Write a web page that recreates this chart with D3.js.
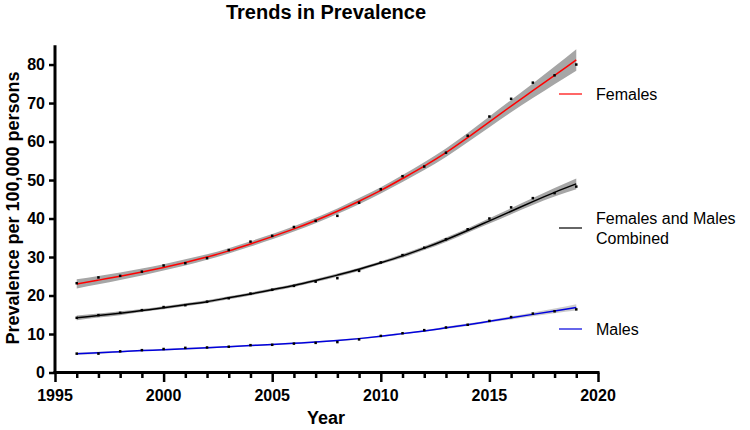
<!DOCTYPE html>
<meta charset="utf-8">
<title>Trends in Prevalence</title>
<body>
<script src="https://cdn.jsdelivr.net/npm/d3@7"></script>
<style>
html, body {
    margin: 0;
    background: #fff;
}
svg {
    display: block;
    font-family: "Liberation Sans", Arial, sans-serif;
}
</style>
<script>
var years = d3.range(1996, 2020);

// observed points
var females  = [23.2, 24.7, 25.1, 26.2, 27.8, 28.4, 29.7, 31.8, 34.0, 35.5, 37.8, 39.4,
                40.7, 44.1, 47.6, 51.0, 53.5, 57.1, 61.5, 66.5, 71.1, 75.3, 77.2, 80.0];
var combined = [14.2, 14.9, 15.5, 16.2, 17.0, 17.5, 18.4, 19.3, 20.5, 21.5, 22.5, 23.6,
                24.5, 26.4, 28.6, 30.5, 32.4, 34.6, 37.2, 40.0, 42.9, 45.3, 46.6, 48.3];
var males    = [4.9, 4.9, 5.5, 5.8, 6.1, 6.4, 6.5, 6.7, 7.1, 7.2, 7.5, 7.7,
                7.9, 8.6, 9.5, 10.2, 11.0, 11.7, 12.4, 13.4, 14.4, 15.3, 15.9, 16.4];

// fitted trend
var femalesFit  = [23.0, 24.0, 25.0, 26.1, 27.3, 28.6, 30.0, 31.6, 33.4, 35.3, 37.3, 39.5,
                   41.9, 44.5, 47.3, 50.4, 53.6, 57.1, 61.0, 65.1, 69.2, 73.2, 77.2, 81.2];
var combinedFit = [14.2, 14.8, 15.4, 16.1, 16.8, 17.6, 18.4, 19.4, 20.4, 21.5, 22.6, 23.9,
                   25.3, 26.8, 28.5, 30.3, 32.3, 34.5, 36.9, 39.4, 41.9, 44.4, 46.8, 49.0];
var malesFit    = [4.9, 5.1, 5.4, 5.7, 5.9, 6.2, 6.4, 6.7, 7.0, 7.3, 7.6, 7.9,
                   8.3, 8.8, 9.4, 10.1, 10.8, 11.6, 12.4, 13.3, 14.2, 15.1, 16.0, 16.9];

// half width of the confidence band
var femalesBand  = [1.2, 1.1, 1.0, 0.9, 0.8, 0.8, 0.7, 0.7, 0.7, 0.7, 0.7, 0.7,
                    0.7, 0.8, 0.8, 0.9, 1.0, 1.1, 1.2, 1.4, 1.6, 1.9, 2.3, 2.8];
var combinedBand = [0.6, 0.5, 0.5, 0.4, 0.4, 0.4, 0.4, 0.4, 0.4, 0.4, 0.4, 0.4,
                    0.4, 0.4, 0.4, 0.5, 0.5, 0.6, 0.6, 0.7, 0.8, 0.9, 1.1, 1.4];
var malesBand    = [0.3, 0.3, 0.2, 0.2, 0.2, 0.2, 0.2, 0.2, 0.2, 0.2, 0.2, 0.2,
                    0.2, 0.2, 0.2, 0.2, 0.2, 0.3, 0.3, 0.3, 0.4, 0.5, 0.6, 0.8];

var xTicks = [1995, 2000, 2005, 2010, 2015, 2020];
var yTicks = [0, 10, 20, 30, 40, 50, 60, 70, 80];

var series = [
    { name: ["Females"], obs: females, fit: femalesFit, band: femalesBand, color: "#ff0000", fill: "#a6a6a6", ly: 94 },
    { name: ["Females and Males", "Combined"], obs: combined, fit: combinedFit, band: combinedBand, color: "#000000", fill: "#a6a6a6", ly: 228 },
    { name: ["Males"], obs: males, fit: malesFit, band: malesBand, color: "#0000dd", fill: "#cccccc", ly: 329 }
];

var width = 750,
    height = 430;

var x = d3.scaleLinear().domain([1995, 2020]).range([55, 598]),
    y = d3.scaleLinear().domain([0, 85]).range([372.5, 45.3]);

var svg = d3.select("body").append("svg")
    .attr("width", width)
    .attr("height", height);

var area = d3.area()
    .curve(d3.curveMonotoneX)
    .x(function(d, i) { return x(years[i]); })
    .y0(function(d) { return y(d[0] - d[1]); })
    .y1(function(d) { return y(d[0] + d[1]); });

var line = d3.line()
    .curve(d3.curveMonotoneX)
    .x(function(d, i) { return x(years[i]); })
    .y(function(d) { return y(d); });

var g = svg.selectAll("g.series")
    .data(series)
    .enter().append("g")
    .attr("class", "series");

g.append("path")
    .attr("fill", function(d) { return d.fill; })
    .attr("d", function(d) { return area(d.fit.map(function(v, i) { return [v, d.band[i]]; })); });

g.append("path")
    .attr("fill", "none")
    .attr("stroke", function(d) { return d.color; })
    .attr("stroke-width", 1.5)
    .attr("d", function(d) { return line(d.fit); });

g.selectAll("rect")
    .data(function(d) { return d.obs; })
    .enter().append("rect")
    .attr("x", function(d, i) { return x(years[i]) - 1.25; })
    .attr("y", function(d) { return y(d) - 1.25; })
    .attr("width", 2.5)
    .attr("height", 2.5)
    .attr("fill", "#000");

// axes
var xAxis = svg.append("g")
    .attr("transform", "translate(0," + y(0) + ")")
    .call(d3.axisBottom(x).tickValues(d3.range(1995, 2021)).tickSize(5).tickFormat(""));
xAxis.selectAll(".tick line")
    .attr("stroke-width", 2.5)
    .attr("y2", function(d) { return d % 5 === 0 ? 9.5 : 5.5; });
xAxis.select(".domain").remove();
xAxis.append("line")
    .attr("x1", x(1995) - 1.5).attr("x2", x(2020) + 1.5)
    .attr("stroke", "#000").attr("stroke-width", 3);
xAxis.selectAll("text.lbl")
    .data(xTicks)
    .enter().append("text")
    .attr("class", "lbl")
    .attr("x", function(d) { return x(d); })
    .attr("y", 28)
    .attr("text-anchor", "middle")
    .attr("font-size", 16)
    .attr("font-weight", "bold")
    .attr("font-family", "Liberation Sans, Arial, sans-serif")
    .attr("fill", "#000")
    .text(function(d) { return d; });

var yAxis = svg.append("g")
    .attr("transform", "translate(" + x(1995) + ",0)")
    .call(d3.axisLeft(y).tickValues(yTicks).tickSize(6).tickPadding(4));
yAxis.select(".domain").remove();
yAxis.append("line")
    .attr("y1", y(85)).attr("y2", y(0) + 1.5)
    .attr("stroke", "#000").attr("stroke-width", 3);
yAxis.selectAll(".tick line").attr("stroke-width", 2.5);
yAxis.selectAll(".tick text")
    .attr("font-size", 16)
    .attr("font-weight", "bold")
    .attr("font-family", "Liberation Sans, Arial, sans-serif")
    .attr("fill", "#000");

// titles
svg.append("text")
    .attr("x", 326).attr("y", 19)
    .attr("text-anchor", "middle")
    .attr("font-size", 20).attr("font-weight", "bold")
    .text("Trends in Prevalence");

svg.append("text")
    .attr("x", 326).attr("y", 424)
    .attr("text-anchor", "middle")
    .attr("font-size", 18).attr("font-weight", "bold")
    .text("Year");

svg.append("text")
    .attr("transform", "translate(19,208) rotate(-90)")
    .attr("text-anchor", "middle")
    .attr("font-size", 18).attr("font-weight", "bold")
    .text("Prevalence per 100,000 persons");

// legend
var legend = svg.selectAll("g.legend")
    .data(series)
    .enter().append("g")
    .attr("class", "legend");

legend.append("line")
    .attr("x1", 559).attr("x2", 582)
    .attr("y1", function(d) { return d.ly; })
    .attr("y2", function(d) { return d.ly; })
    .attr("stroke", function(d) { return d.color; })
    .attr("stroke-width", 1.2);

legend.selectAll("text")
    .data(function(d) { return d.name.map(function(n, i) { return { n: n, y: d.ly + (i - (d.name.length - 1) / 2) * 20 }; }); })
    .enter().append("text")
    .attr("x", 596)
    .attr("y", function(d) { return d.y; })
    .attr("dy", "0.35em")
    .attr("font-size", 16)
    .text(function(d) { return d.n; });
</script>
